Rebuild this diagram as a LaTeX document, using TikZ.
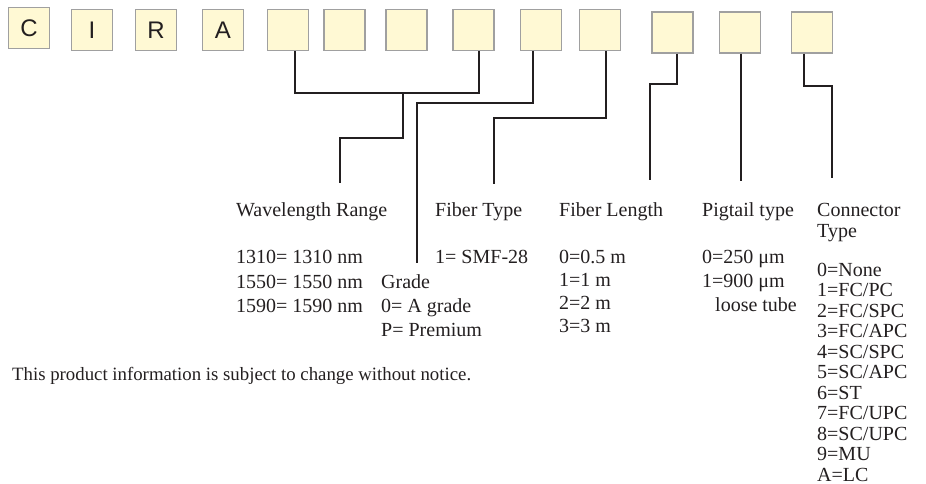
\documentclass[tikz,border=0pt]{standalone}
\usepackage{fontspec}
\setmainfont{Liberation Serif}
\newfontfamily\boxfont{Liberation Sans}
\definecolor{boxfill}{HTML}{FFF9D4}
\definecolor{boxline}{HTML}{A0A0A0}
\definecolor{ink}{HTML}{231F20}
\begin{document}
\begin{tikzpicture}[x=1pt,y=-1pt,
  cbox/.style={draw=boxline,fill=boxfill,line width=1.1pt,minimum width=41pt,minimum height=41pt,inner sep=0pt,font=\boxfont\fontsize{24}{24}\selectfont,text=ink},
  lbl/.style={anchor=base west,inner sep=0pt,font=\fontsize{20}{24}\selectfont,text=ink},
  note/.style={anchor=base west,inner sep=0pt,font=\fontsize{18.8}{22}\selectfont,text=ink},
  lead/.style={draw=ink,line width=1.4pt}]
\useasboundingbox (0,0) rectangle (926,484);
% code boxes
\node[cbox] (b1) at (29,28) {C};
\node[cbox] (b2) at (92,30) {I};
\node[cbox] (b3) at (156,30) {R};
\node[cbox] (b4) at (223,30) {A};
\node[cbox] (b5) at (288,30) {};
\node[cbox] (b6) at (344.5,30) {};
\node[cbox] (b7) at (406.5,30) {};
\node[cbox] (b8) at (473.5,30) {};
\node[cbox] (b9) at (541,30) {};
\node[cbox] (b10) at (600,30) {};
\node[cbox] (b11) at (672.5,32.5) {};
\node[cbox] (b12) at (740,32.5) {};
\node[cbox] (b13) at (812,32.5) {};
% free ends of leaders
\coordinate (wlJ) at (403,93);
\coordinate (wlEnd) at (340,183);
\coordinate (grEnd) at (417,263);
\coordinate (ftEnd) at (494,184);
\coordinate (flEnd) at (650,180);
\coordinate (ptEnd) at (741,181);
\coordinate (ctEnd) at (832,178);
% leaders
\draw[lead] ([xshift=7pt]b5.south) -- ++(0,42) -| ([xshift=5.5pt]b8.south);
\draw[lead] (wlJ) -- ++(0,45) -| (wlEnd);
\draw[lead] ([xshift=-8pt]b9.south) -- ++(0,52) -| (grEnd);
\draw[lead] ([xshift=6pt]b10.south) -- ++(0,67) -| (ftEnd);
\draw[lead] ([xshift=4.5pt]b11.south) -- ++(0,30.5) -| (flEnd);
\draw[lead] ([xshift=1pt]b12.south) -- (ptEnd);
\draw[lead] ([xshift=-8pt]b13.south) -- ++(0,32.5) -| (ctEnd);
% wavelength
\node[lbl] (wlh) at (236,216) {Wavelength Range};
\node[lbl] (wl1) at (236,263) {1310= 1310 nm};
\node[lbl] (wl2) at (236,288) {1550= 1550 nm};
\node[lbl] (wl3) at (236,312) {1590= 1590 nm};
% grade
\node[lbl] (grh) at (381,288) {Grade};
\node[lbl] (gr1) at (381,312) {0= A grade};
\node[lbl] (gr2) at (381,336) {P= Premium};
% fiber type
\node[lbl] (fth) at (435,216) {Fiber Type};
\node[lbl] (ft1) at (435,263) {1= SMF-28};
% fiber length
\node[lbl] (flh) at (559,216) {Fiber Length};
\node[lbl] (fl1) at (559,263) {0=0.5 m};
\node[lbl] (fl2) at (559,286) {1=1 m};
\node[lbl] (fl3) at (559,309) {2=2 m};
\node[lbl] (fl4) at (559,332) {3=3 m};
% pigtail
\node[lbl] (pth) at (702,216) {Pigtail type};
\node[lbl] (pt1) at (702,263) {0=250 μm};
\node[lbl] (pt2) at (702,287) {1=900 μm};
\node[lbl] (pt3) at (715,311) {loose tube};
% connector
\node[lbl] (cth1) at (817,216) {Connector};
\node[lbl] (cth2) at (817,237) {Type};
\foreach \t [count=\i from 0] in {0=None,1=FC/PC,2=FC/SPC,3=FC/APC,4=SC/SPC,5=SC/APC,6=ST,7=FC/UPC,8=SC/UPC,9=MU,A=LC}
  \node[lbl] (ct\i) at (817,276+20.5*\i) {\t};
% footer
\node[note] (foot) at (12,380) {This product information is subject to change without notice.};
\end{tikzpicture}
\end{document}
